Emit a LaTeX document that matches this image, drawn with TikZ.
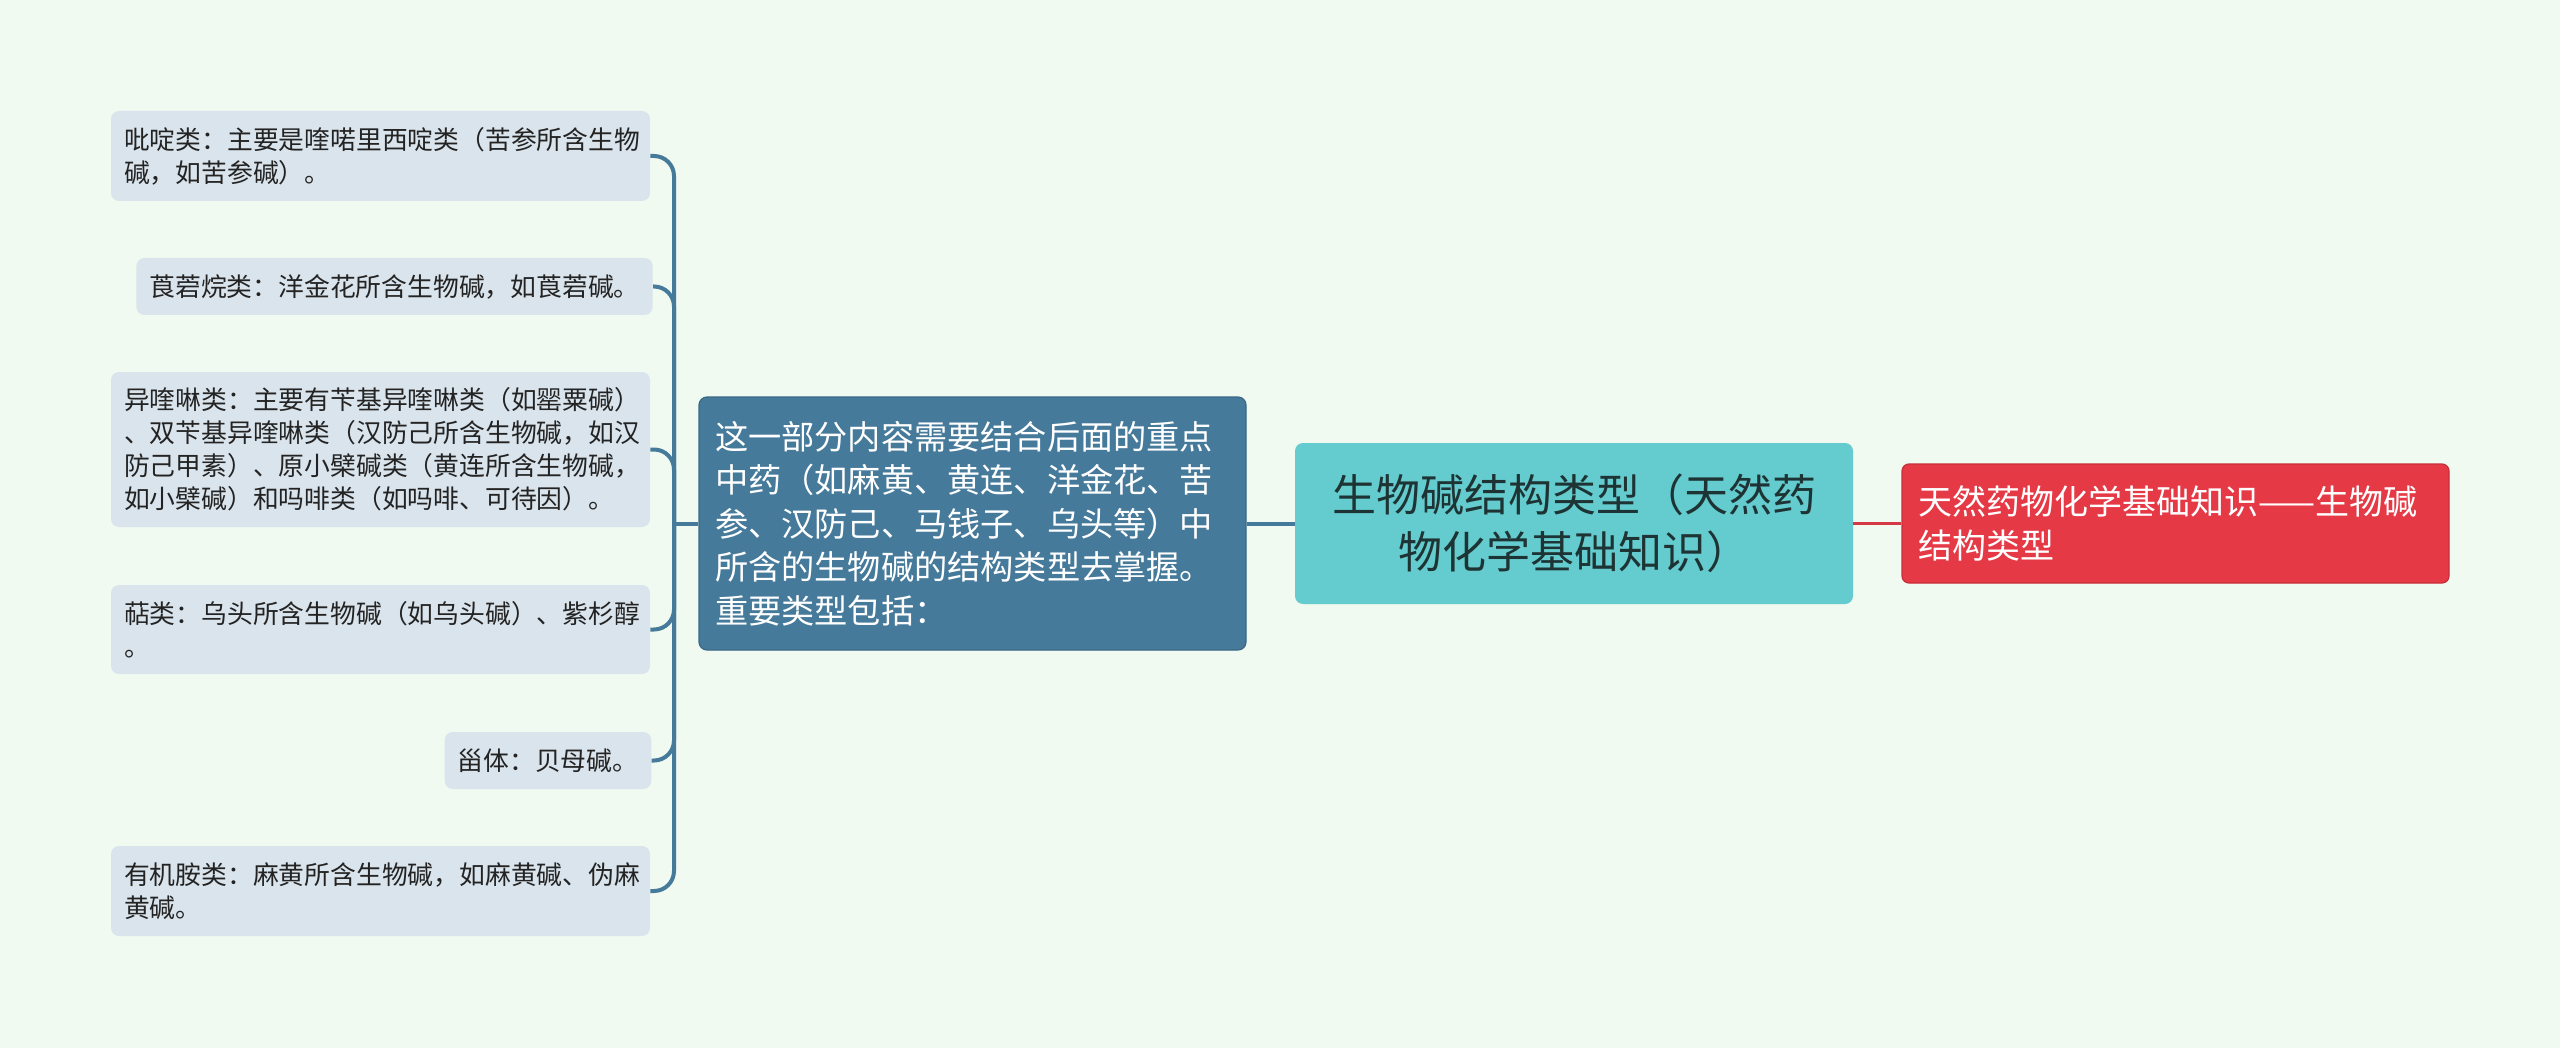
\documentclass[tikz,border=0pt]{standalone}
\usepackage{fontspec}
\setmainfont{Noto Sans CJK SC}
\definecolor{bgc}{RGB}{240,250,240}
\definecolor{leafc}{RGB}{218,228,236}
\definecolor{leaftext}{RGB}{35,35,35}
\definecolor{linec}{RGB}{70,122,155}
\definecolor{midc}{RGB}{70,122,155}
\definecolor{midborder}{RGB}{58,104,134}
\definecolor{rootc}{RGB}{100,203,206}
\definecolor{roottext}{RGB}{30,52,52}
\definecolor{redc}{RGB}{230,57,70}
\definecolor{redborder}{RGB}{200,45,58}
\definecolor{redline}{RGB}{212,58,69}
\begin{document}
\begin{tikzpicture}[x=0.5pt,y=-0.5pt,
  leaf/.style={fill=leafc, rounded corners=4pt, text=leaftext,
    font=\fontsize{12.9pt}{16.5pt}\selectfont, align=left,
    inner xsep=6.5pt, inner ysep=2pt},
  wideleaf/.style={leaf, text width=256.5pt, minimum width=269.5pt},
  midbox/.style={fill=midc, draw=midborder, line width=0.6pt, rounded corners=4pt, text=white,
    font=\fontsize{16.6pt}{21.8pt}\selectfont, align=left,
    text width=257.5pt, inner xsep=8pt, inner ysep=2pt,
    minimum width=273.5pt, minimum height=126.5pt},
  rootbox/.style={fill=rootc, rounded corners=4pt, text=roottext,
    font=\fontsize{22pt}{28.6pt}\selectfont, align=center,
    text width=259pt, inner xsep=10pt, inner ysep=2pt,
    minimum width=279pt, minimum height=80.5pt},
  redbox/.style={fill=redc, draw=redborder, line width=0.6pt, rounded corners=3.5pt, text=white,
    font=\fontsize{17pt}{22pt}\selectfont, align=left,
    text width=257.5pt, inner xsep=8pt, inner ysep=2pt,
    minimum width=273.5pt, minimum height=59.5pt},
  conn/.style={draw=linec, line width=2pt, rounded corners=10pt},
  redconn/.style={draw=redline, line width=1.6pt}
]
\fill[bgc] (0,0) rectangle (2560,1048);
\useasboundingbox (0,0) rectangle (2560,1048);

% leaves
\node[wideleaf, minimum height=45pt] (L1) at (380.5,156)
  {吡啶类：主要是喹喏里西啶类（苦参所含生物\\碱，如苦参碱）。};
\node[leaf, minimum width=255.5pt, minimum height=28.5pt] (L2) at (394.5,286.5)
  {莨菪烷类：洋金花所含生物碱，如莨菪碱。};
\node[wideleaf, minimum height=77.5pt] (L3) at (380.5,449.5)
  {异喹啉类：主要有苄基异喹啉类（如罂粟碱）\\、双苄基异喹啉类（汉防己所含生物碱，如汉\\防己甲素）、原小檗碱类（黄连所含生物碱，\\如小檗碱）和吗啡类（如吗啡、可待因）。};
\node[wideleaf, minimum height=44.5pt] (L4) at (380.5,629.5)
  {萜类：乌头所含生物碱（如乌头碱）、紫杉醇\\。};
\node[leaf, minimum width=102pt, minimum height=28.5pt] (L5) at (548,760.5)
  {甾体：贝母碱。};
\node[wideleaf, minimum height=45pt] (L6) at (380.5,891)
  {有机胺类：麻黄所含生物碱，如麻黄碱、伪麻\\黄碱。};

% middle, root, right
\node[midbox] (mid) at (972.5,523.5)
  {这一部分内容需要结合后面的重点\\中药（如麻黄、黄连、洋金花、苦\\参、汉防己、马钱子、乌头等）中\\所含的生物碱的结构类型去掌握。\\重要类型包括：};
\node[rootbox] (root) at (1574,523.5)
  {生物碱结构类型（天然药\\物化学基础知识）};
\node[redbox] (red) at (2175.5,523.5)
  {天然药物化学基础知识——生物碱\\结构类型};

% connectors
\coordinate (tj) at (674,523.5);
\foreach \n in {L1,L2,L3,L4,L5,L6}{
  \draw[conn] (\n.east) -- (\n.east -| tj) -- (tj);
}
\draw[conn] (mid.west) -- (tj);
\draw[conn] (root.west) -- (mid.east);
\draw[redconn] (root.east) -- (red.west);
\end{tikzpicture}
\end{document}
